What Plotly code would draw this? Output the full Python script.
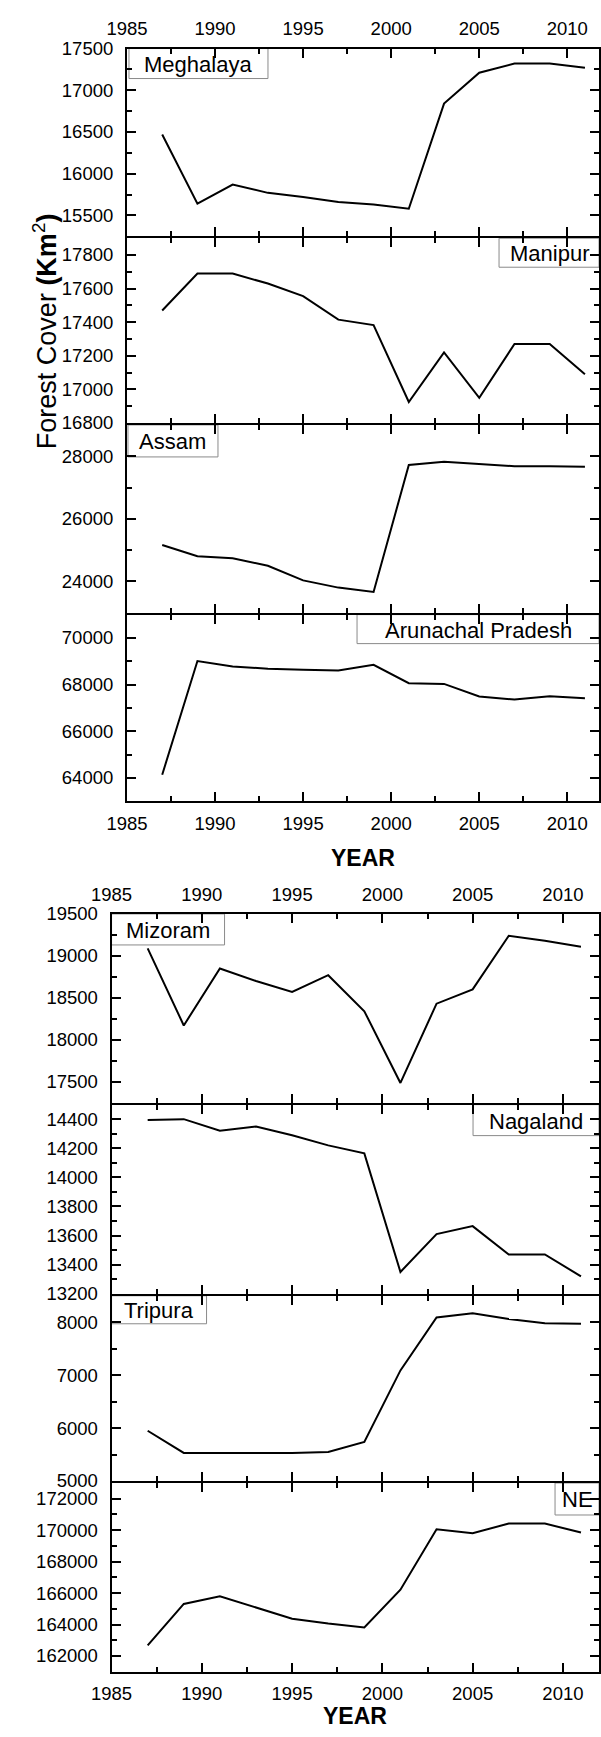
import plotly.graph_objects as go

W, H = 601, 1737

years = [1987, 1989, 1991, 1993, 1995, 1997, 1999, 2001, 2003, 2005, 2007, 2009, 2011]

meghalaya = [16470, 15640, 15870, 15770, 15720, 15660, 15630, 15580, 16840, 17210, 17320, 17320, 17270]
manipur = [17470, 17690, 17690, 17630, 17555, 17415, 17383, 16925, 17220, 16950, 17270, 17270, 17090]
assam = [25160, 24800, 24740, 24500, 24030, 23800, 23660, 27720, 27820, 27750, 27680, 27680, 27660]
arunachal = [64140, 69010, 68780, 68680, 68640, 68610, 68850, 68060, 68030, 67490, 67360, 67500, 67420]
mizoram = [19090, 18170, 18850, 18700, 18570, 18770, 18340, 17485, 18430, 18600, 19240, 19180, 19110]
nagaland = [14395, 14400, 14320, 14350, 14290, 14220, 14165, 13350, 13610, 13665, 13470, 13470, 13320]
tripura = [5950, 5530, 5530, 5530, 5530, 5550, 5740, 7090, 8090, 8170, 8060, 7980, 7970]
ne = [162670, 165310, 165790, 165100, 164370, 164060, 163810, 166210, 170060, 169810, 170420, 170420, 169850]

names = ["Meghalaya", "Manipur", "Assam", "Arunachal Pradesh",
         "Mizoram", "Nagaland", "Tripura", "NE"]
series = [meghalaya, manipur, assam, arunachal, mizoram, nagaland, tripura, ne]
y_ranges = [[15250, 17500], [16800, 17900], [23000, 29000], [63000, 71000],
            [17250, 19500], [13200, 14500], [5000, 8500], [161000, 173000]]
y_dticks = [500, 200, 2000, 2000, 500, 200, 1000, 2000]

x_tick_labels = [1985, 1990, 1995, 2000, 2005, 2010]

# layout (pixels)
LW = 2
panel_px = [(38, 229), (229, 418), (418, 610), (610, 800),
            (914, 1106), (1106, 1299.5), (1299.5, 1489), (1489, 1681)]
group_x_px = [(110, 600), (94, 600)]
x_ranges = [[1985, 2011.8], [1985, 2012]]
# label boxes: (side, x offset px, width px, height px)
boxes = [("left", 2, 139, 30), ("right", 0, 100, 29), ("left", 1, 90, 32), ("right", 0, 242, 29),
         ("left", 0, 113, 31), ("right", 0, 126, 31), ("left", 0, 95, 28), ("right", 0, 44, 32)]

FONT = "Liberation Sans, Arial, sans-serif"
TICK_SIZE = 18.5

fig = go.Figure()
layout = dict(width=W, height=H, margin=dict(l=0, r=0, t=0, b=0),
              paper_bgcolor="white", plot_bgcolor="white", showlegend=False,
              font=dict(family=FONT, size=18, color="black"))
shapes = []
annotations = []

for i in range(8):
    g = 0 if i < 4 else 1
    n = i + 1
    xname = "xaxis" if n == 1 else f"xaxis{n}"
    yname = "yaxis" if n == 1 else f"yaxis{n}"
    xref = "x" if n == 1 else f"x{n}"
    yref = "y" if n == 1 else f"y{n}"
    fig.add_trace(go.Scatter(x=years, y=series[i], mode="lines",
                             line=dict(color="black", width=2),
                             xaxis=xref, yaxis=yref, name=names[i]))
    top, bot = panel_px[i]
    first = i in (0, 4)
    last = i in (3, 7)
    # inset shared edges so the neighbouring axis lines coincide
    if not first:
        top += LW / 2
    if not last:
        bot -= LW / 2
    x0, x1 = group_x_px[g]
    layout[xname] = dict(
        domain=[x0 / W, x1 / W], range=x_ranges[g], anchor=yref,
        showline=True, linecolor="black", linewidth=LW, mirror="ticks",
        ticks="inside", ticklen=9, tickwidth=1.5, tickcolor="black",
        tickvals=x_tick_labels, tickformat="d",
        showgrid=False, zeroline=False,
        showticklabels=first or last, side="top" if first else "bottom",
        ticklabelstandoff=4,
        tickfont=dict(size=TICK_SIZE, family=FONT),
        minor=dict(ticks="inside", ticklen=5, tickwidth=1.5, tickcolor="black",
                   dtick=2.5, tick0=1985, showgrid=False),
    )
    layout[yname] = dict(
        domain=[1 - bot / H, 1 - top / H], range=y_ranges[i], anchor=xref,
        showline=True, linecolor="black", linewidth=LW, mirror="ticks",
        ticks="inside", ticklen=9, tickwidth=1.5, tickcolor="black",
        tick0=0, dtick=y_dticks[i], tickformat="d",
        showgrid=False, zeroline=False,
        ticklabelstandoff=8, tickfont=dict(size=TICK_SIZE, family=FONT),
        minor=dict(ticks="inside", ticklen=5, tickwidth=1.5, tickcolor="black",
                   dtick=y_dticks[i] / 2, tick0=0, showgrid=False),
    )
    side, off, bw, bh = boxes[i]
    if side == "left":
        xa, px0, px1 = 0, off, off + bw
    else:
        xa, px0, px1 = 1, -bw, 0
    shapes.append(dict(type="rect", layer="below",
                       xref=f"{xref} domain", yref=f"{yref} domain",
                       xsizemode="pixel", ysizemode="pixel",
                       xanchor=xa, yanchor=1, x0=px0, x1=px1, y0=0, y1=-bh,
                       line=dict(color="#8a8a8a", width=1), fillcolor="rgba(0,0,0,0)"))
    annotations.append(dict(text=names[i], xref=f"{xref} domain", yref=f"{yref} domain",
                            x=xa, y=1, xanchor="center", yanchor="middle",
                            xshift=(px0 + px1) / 2, yshift=-bh / 2 - 1, showarrow=False,
                            font=dict(size=22, family=FONT, color="black")))

annotations.append(dict(text="Forest Cover <b>(Km</b><sup>2</sup><b>)</b>",
                        xref="paper", yref="paper", x=25 / W, y=1 - 324 / H,
                        xanchor="center", yanchor="middle", textangle=-90,
                        showarrow=False, font=dict(size=27, family=FONT, color="black")))
annotations.append(dict(text="<b>YEAR</b>", xref="paper", yref="paper",
                        x=355 / W, y=1 - 857 / H, xanchor="center", yanchor="middle",
                        showarrow=False, font=dict(size=23, family=FONT, color="black")))
annotations.append(dict(text="<b>YEAR</b>", xref="paper", yref="paper",
                        x=347 / W, y=1 - 1726 / H, xanchor="center", yanchor="middle",
                        showarrow=False, font=dict(size=23, family=FONT, color="black")))

layout["shapes"] = shapes
layout["annotations"] = annotations
fig.update_layout(**layout)
fig.write_html("out.html")
